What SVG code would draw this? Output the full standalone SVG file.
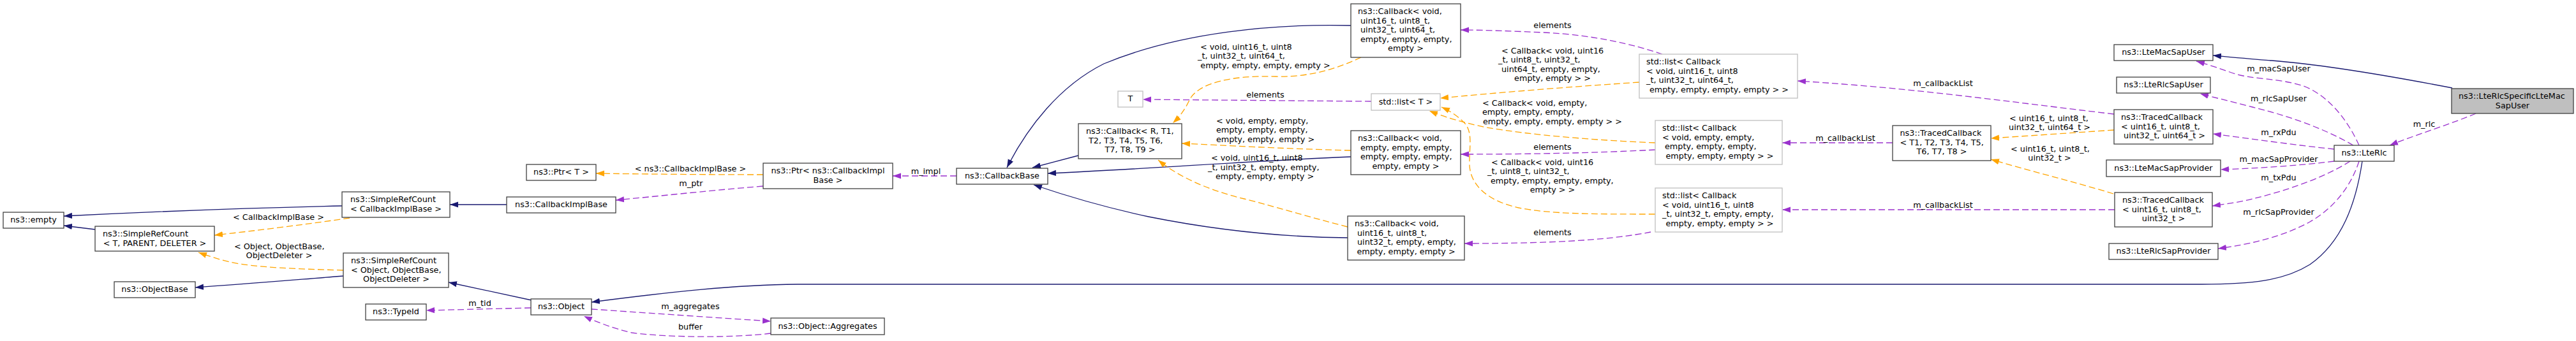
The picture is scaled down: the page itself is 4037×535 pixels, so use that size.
<svg xmlns="http://www.w3.org/2000/svg" width="4037" height="535" viewBox="0 0 4037 535">
<style>
text{font-family:"DejaVu Sans","Liberation Sans",sans-serif;font-size:12.8px;fill:#000}
.m{text-anchor:middle}
.n rect{fill:#fff;stroke:#404040;stroke-width:1.3}
.g rect{fill:#fff;stroke:#bfbfbf;stroke-width:1.3}
.h rect{fill:#bfbfbf;stroke:#404040;stroke-width:1.3}
.inh{fill:none;stroke:#191970;stroke-width:1.3;marker-end:url(#an)}
.use{fill:none;stroke:#9a32cd;stroke-width:1.3;stroke-dasharray:10,5;marker-end:url(#ap)}
.tpl{fill:none;stroke:#ffa500;stroke-width:1.3;stroke-dasharray:10,5;marker-end:url(#ao)}
</style>
<defs>
<marker id="an" markerUnits="userSpaceOnUse" markerWidth="14" markerHeight="10" viewBox="0 0 14 10" refX="13" refY="5" orient="auto"><path d="M0,0.4L13,5L0,9.6z" fill="#191970"/></marker>
<marker id="ap" markerUnits="userSpaceOnUse" markerWidth="14" markerHeight="10" viewBox="0 0 14 10" refX="13" refY="5" orient="auto"><path d="M0,0.4L13,5L0,9.6z" fill="#9a32cd"/></marker>
<marker id="ao" markerUnits="userSpaceOnUse" markerWidth="14" markerHeight="10" viewBox="0 0 14 10" refX="13" refY="5" orient="auto"><path d="M0,0.4L13,5L0,9.6z" fill="#ffa500"/></marker>
</defs>
<rect width="4037" height="535" fill="#fff"/>
<g id="edges">
<path class="inh" d="M536,323C400,326 220,333 100,339"/>
<path class="inh" d="M149,360L100,354"/>
<path class="tpl" d="M548,342C480,352 400,362 336,369"/>
<text class="m" x="436.5" y="345">&lt; CallbackImplBase &gt;</text>
<path class="tpl" d="M538,424C470,422 400,420 360,411C340,406 325,401 311,396"/>
<text x="367" y="390.5">&lt; Object, ObjectBase,</text>
<text class="m" x="437.5" y="405">ObjectDeleter &gt;</text>
<path class="inh" d="M538,433C450,440 380,446 306,451"/>
<path class="inh" d="M794,321L705,321"/>
<path class="inh" d="M833,471L703,443"/>
<path class="use" d="M832,483L668,487"/>
<text class="m" x="752" y="480">m_tid</text>
<path class="inh" d="M3702,253C3692,320 3670,380 3620,415C3580,440 3530,446 3450,446L1250,446C1150,447 1050,458 927,474"/>
<path class="use" d="M927,485C1000,490 1100,497 1208,504"/>
<text class="m" x="1082" y="485">m_aggregates</text>
<path class="use" d="M1208,523C1150,530 1050,530 990,522C960,515 935,505 915,496"/>
<text class="m" x="1082" y="517">buffer</text>
<path class="tpl" d="M1196,274C1100,274 1000,273 934,272"/>
<text class="m" x="1082" y="268.5">&lt; ns3::CallbackImplBase &gt;</text>
<path class="use" d="M1196,292C1100,300 1030,308 965,314"/>
<text class="m" x="1083" y="291.5">m_ptr</text>
<path class="use" d="M1499,276L1399,276"/>
<text class="m" x="1451" y="272.5">m_impl</text>
<path class="inh" d="M1690,244L1618,263"/>
<path class="inh" d="M2117,40C2000,37 1850,50 1730,100C1660,135 1610,200 1578,263"/>
<path class="inh" d="M2117,246C1950,253 1800,265 1642,272"/>
<path class="inh" d="M2112,373C2000,372 1900,360 1800,340C1730,325 1670,307 1620,290"/>
<path class="use" d="M2149,159L1791,156"/>
<text class="m" x="1983" y="153">elements</text>
<path class="tpl" d="M2133,90C2100,105 2060,121 2000,120C1930,118 1880,130 1865,155C1858,170 1850,182 1838,193"/>
<text x="1881" y="77.5">&lt; void, uint16_t, uint8</text>
<text x="1877" y="92">_t, uint32_t, uint64_t,</text>
<text class="m" x="1983" y="106.5">empty, empty, empty, empty &gt;</text>
<path class="tpl" d="M2117,236C2000,233 1920,228 1852,225"/>
<text x="1906" y="193.5">&lt; void, empty, empty,</text>
<text x="1906" y="208">empty, empty, empty,</text>
<text class="m" x="1983" y="222.5">empty, empty, empty &gt;</text>
<path class="tpl" d="M2112,356C2050,340 1990,322 1950,312C1900,300 1850,280 1815,251"/>
<text x="1898" y="252">&lt; void, uint16_t, uint8</text>
<text x="1893" y="266.5">_t, uint32_t, empty, empty,</text>
<text class="m" x="1982" y="281">empty, empty, empty &gt;</text>
<path class="tpl" d="M2569,129C2450,137 2350,145 2257,154"/>
<text x="2353" y="83.5">&lt; Callback&lt; void, uint16</text>
<text x="2348" y="98">_t, uint8_t, uint32_t,</text>
<text x="2353" y="112.5">uint64_t, empty, empty,</text>
<text class="m" x="2433" y="127">empty, empty &gt; &gt;</text>
<path class="tpl" d="M2594,224C2500,220 2400,212 2330,200C2290,192 2260,182 2240,174"/>
<text x="2323" y="165.5">&lt; Callback&lt; void, empty,</text>
<text x="2323" y="180">empty, empty, empty,</text>
<text class="m" x="2433" y="194.5">empty, empty, empty, empty &gt; &gt;</text>
<path class="tpl" d="M2594,336C2500,336 2430,336 2380,326C2330,315 2305,290 2303,260C2302,230 2310,205 2292,190C2282,180 2270,173 2259,168"/>
<text x="2337" y="258.5">&lt; Callback&lt; void, uint16</text>
<text x="2331" y="273">_t, uint8_t, uint32_t,</text>
<text x="2336" y="287.5">empty, empty, empty, empty,</text>
<text class="m" x="2433" y="302">empty &gt; &gt;</text>
<path class="use" d="M2605,85C2560,70 2500,55 2420,51C2370,49 2330,47 2289,47"/>
<text class="m" x="2433" y="43.5">elements</text>
<path class="use" d="M2594,235C2500,240 2400,242 2289,242"/>
<text class="m" x="2433" y="234.5">elements</text>
<path class="use" d="M2587,364C2530,375 2450,382 2295,382"/>
<text class="m" x="2433" y="369">elements</text>
<path class="use" d="M3313,179C3150,160 3000,138 2817,127"/>
<text class="m" x="3045" y="134.5">m_callbackList</text>
<path class="use" d="M2966,224L2793,224"/>
<text class="m" x="2892" y="220.5">m_callbackList</text>
<path class="use" d="M3314,329L2793,329"/>
<text class="m" x="3045" y="325.5">m_callbackList</text>
<path class="tpl" d="M3313,204L3120,217"/>
<text x="3149" y="189.5">&lt; uint16_t, uint8_t,</text>
<text class="m" x="3212" y="203.5">uint32_t, uint64_t &gt;</text>
<path class="tpl" d="M3312,304C3250,285 3180,268 3120,250"/>
<text x="3151" y="237.5">&lt; uint16_t, uint8_t,</text>
<text class="m" x="3212" y="252">uint32_t &gt;</text>
<path class="inh" d="M3843,138C3760,122 3650,102 3560,95C3530,93 3500,90 3468,87"/>
<path class="use" d="M3880,178C3840,195 3790,210 3745,228"/>
<text class="m" x="3799" y="199">m_rlc</text>
<path class="use" d="M3697,228C3680,190 3650,150 3610,135C3570,122 3530,125 3500,115C3480,108 3460,101 3442,96"/>
<text class="m" x="3571" y="111.5">m_macSapUser</text>
<path class="use" d="M3688,228C3640,200 3580,180 3530,168C3500,160 3470,153 3448,147"/>
<text class="m" x="3571" y="158.5">m_rlcSapUser</text>
<path class="use" d="M3658,234C3600,228 3530,218 3468,210"/>
<text class="m" x="3571" y="211.5">m_rxPdu</text>
<path class="use" d="M3658,253C3600,260 3540,264 3480,266"/>
<text class="m" x="3571" y="253.5">m_macSapProvider</text>
<path class="use" d="M3683,253C3640,280 3580,300 3530,312C3510,317 3490,320 3467,323"/>
<text class="m" x="3571" y="282.5">m_txPdu</text>
<path class="use" d="M3697,253C3685,290 3660,325 3620,348C3580,370 3530,383 3476,390"/>
<text class="m" x="3571" y="336.5">m_rlcSapProvider</text>
</g>
<g id="node-empty" class="n"><rect x="5" y="333" width="95" height="25"/><text class="m" x="52.5" y="349">ns3::empty</text></g>
<g id="node-srcTPD" class="n"><rect x="149" y="355" width="187" height="39"/><text x="161" y="371">ns3::SimpleRefCount</text><text class="m" x="242.5" y="385.5">&lt; T, PARENT, DELETER &gt;</text></g>
<g id="node-objectbase" class="n"><rect x="179" y="442" width="127" height="25"/><text class="m" x="242.5" y="458">ns3::ObjectBase</text></g>
<g id="node-srcCIB" class="n"><rect x="536" y="301" width="169" height="40"/><text x="549" y="317">ns3::SimpleRefCount</text><text class="m" x="620.5" y="331.5">&lt; CallbackImplBase &gt;</text></g>
<g id="node-srcObject" class="n"><rect x="538" y="397" width="165" height="54"/><text x="550" y="413">ns3::SimpleRefCount</text><text x="550" y="427.5">&lt; Object, ObjectBase,</text><text class="m" x="621" y="442">ObjectDeleter &gt;</text></g>
<g id="node-typeid" class="n"><rect x="573" y="477" width="95" height="25"/><text class="m" x="620.5" y="493">ns3::TypeId</text></g>
<g id="node-ptrT" class="n"><rect x="825" y="258" width="109" height="25"/><text class="m" x="879.5" y="274">ns3::Ptr&lt; T &gt;</text></g>
<g id="node-cib" class="n"><rect x="794" y="309" width="171" height="25"/><text class="m" x="879.5" y="325">ns3::CallbackImplBase</text></g>
<g id="node-object" class="n"><rect x="832" y="469" width="95" height="25"/><text class="m" x="879.5" y="485">ns3::Object</text></g>
<g id="node-ptrCIB" class="n"><rect x="1196" y="256" width="203" height="40"/><text class="m" x="1297.5" y="272">ns3::Ptr&lt; ns3::CallbackImpl</text><text class="m" x="1297.5" y="286.5">Base &gt;</text></g>
<g id="node-aggregates" class="n"><rect x="1208" y="499" width="178" height="26"/><text class="m" x="1297" y="515.5">ns3::Object::Aggregates</text></g>
<g id="node-callbackbase" class="n"><rect x="1499" y="264" width="143" height="25"/><text class="m" x="1570.5" y="280">ns3::CallbackBase</text></g>
<g id="node-T" class="g"><rect x="1752" y="143" width="39" height="25"/><text class="m" x="1771.5" y="159">T</text></g>
<g id="node-callbackR" class="n"><rect x="1690" y="194" width="162" height="55"/><text x="1702" y="210">ns3::Callback&lt; R, T1,</text><text x="1706" y="224.5">T2, T3, T4, T5, T6,</text><text class="m" x="1771" y="239">T7, T8, T9 &gt;</text></g>
<g id="node-cb64" class="n"><rect x="2117" y="6" width="172" height="84"/><text x="2128" y="22">ns3::Callback&lt; void,</text><text x="2132" y="36.5">uint16_t, uint8_t,</text><text x="2132" y="51">uint32_t, uint64_t,</text><text x="2132" y="65.5">empty, empty, empty,</text><text class="m" x="2203" y="80">empty &gt;</text></g>
<g id="node-listT" class="g"><rect x="2149" y="147" width="108" height="26"/><text class="m" x="2203" y="163.5">std::list&lt; T &gt;</text></g>
<g id="node-cbEmpty" class="n"><rect x="2117" y="205" width="172" height="69"/><text x="2128" y="221">ns3::Callback&lt; void,</text><text x="2132" y="235.5">empty, empty, empty,</text><text x="2132" y="250">empty, empty, empty,</text><text class="m" x="2203" y="264.5">empty, empty &gt;</text></g>
<g id="node-cb32" class="n"><rect x="2112" y="339" width="183" height="69"/><text x="2123" y="355">ns3::Callback&lt; void,</text><text x="2127" y="369.5">uint16_t, uint8_t,</text><text x="2127" y="384">uint32_t, empty, empty,</text><text class="m" x="2203.5" y="398.5">empty, empty, empty &gt;</text></g>
<g id="node-list64" class="g"><rect x="2569" y="85" width="248" height="69"/><text x="2580" y="101">std::list&lt; Callback</text><text x="2580" y="115.5">&lt; void, uint16_t, uint8</text><text x="2580" y="130">_t, uint32_t, uint64_t,</text><text class="m" x="2694" y="144.5">empty, empty, empty, empty &gt; &gt;</text></g>
<g id="node-listEmpty" class="g"><rect x="2594" y="189" width="199" height="69"/><text x="2605" y="205">std::list&lt; Callback</text><text x="2605" y="219.5">&lt; void, empty, empty,</text><text x="2609" y="234">empty, empty, empty,</text><text class="m" x="2695" y="248.5">empty, empty, empty &gt; &gt;</text></g>
<g id="node-list32" class="g"><rect x="2594" y="295" width="199" height="69"/><text x="2605" y="311">std::list&lt; Callback</text><text x="2605" y="325.5">&lt; void, uint16_t, uint8</text><text x="2605" y="340">_t, uint32_t, empty, empty,</text><text class="m" x="2695" y="354.5">empty, empty, empty &gt; &gt;</text></g>
<g id="node-tcT" class="n"><rect x="2966" y="197" width="154" height="55"/><text x="2977.5" y="213">ns3::TracedCallback</text><text x="2977.5" y="227.5">&lt; T1, T2, T3, T4, T5,</text><text class="m" x="3043" y="242">T6, T7, T8 &gt;</text></g>
<g id="node-macSapUser" class="n"><rect x="3313" y="70" width="155" height="25"/><text class="m" x="3390.5" y="86">ns3::LteMacSapUser</text></g>
<g id="node-rlcSapUser" class="n"><rect x="3317" y="121" width="147" height="25"/><text class="m" x="3390.5" y="137">ns3::LteRlcSapUser</text></g>
<g id="node-tc64" class="n"><rect x="3313" y="172" width="155" height="54"/><text x="3324" y="188">ns3::TracedCallback</text><text x="3324" y="202.5">&lt; uint16_t, uint8_t,</text><text class="m" x="3392" y="217">uint32_t, uint64_t &gt;</text></g>
<g id="node-macSapProvider" class="n"><rect x="3301" y="251" width="179" height="26"/><text class="m" x="3390.5" y="267.5">ns3::LteMacSapProvider</text></g>
<g id="node-tc32" class="n"><rect x="3314" y="302" width="153" height="54"/><text x="3326" y="318">ns3::TracedCallback</text><text x="3326" y="332.5">&lt; uint16_t, uint8_t,</text><text class="m" x="3390.5" y="347">uint32_t &gt;</text></g>
<g id="node-rlcSapProvider" class="n"><rect x="3305" y="382" width="171" height="25"/><text class="m" x="3390.5" y="398">ns3::LteRlcSapProvider</text></g>
<g id="node-lteRlc" class="n"><rect x="3658" y="228" width="94" height="25"/><text class="m" x="3705" y="244">ns3::LteRlc</text></g>
<g id="node-specific" class="h"><rect x="3842" y="139" width="191" height="39"/><text x="3853" y="155">ns3::LteRlcSpecificLteMac</text><text class="m" x="3937.5" y="169.5">SapUser</text></g>
</svg>
